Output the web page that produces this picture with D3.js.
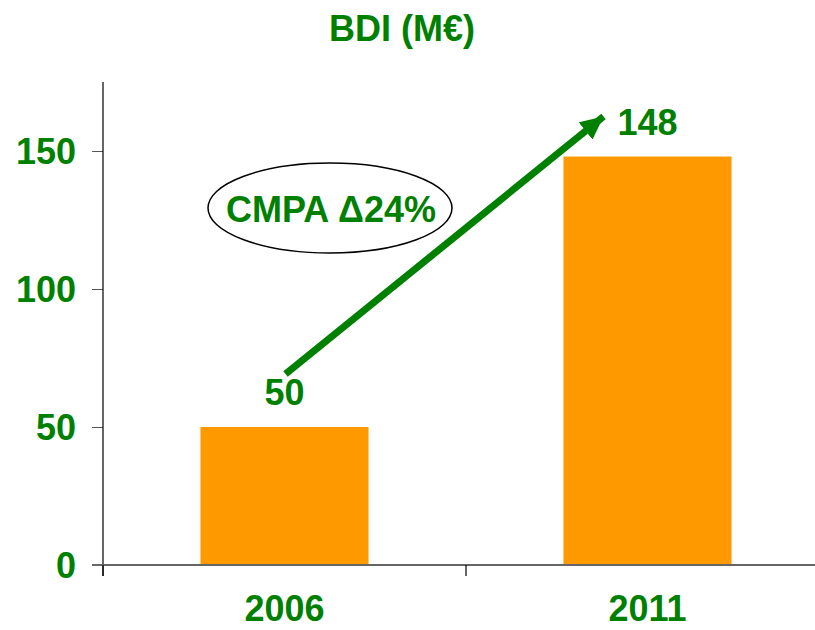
<!DOCTYPE html>
<html>
<head>
<meta charset="utf-8">
<script src="https://cdn.jsdelivr.net/npm/d3@7"></script>
<style>
  body { margin: 0; background: #fff; }
  text { font-family: Arial, "Liberation Sans", sans-serif; font-weight: bold; }
</style>
</head>
<body>
<div id="chart"></div>
<script>
//
// BDI bar chart
//

const _width = 815;
const _height = 630;
const _green = "#008000";
const _barColor = "#ff9900";

var years = ["2006", "2011"];
var bdiValues = [50, 148];
var yTicks = [0, 50, 100, 150];
var chartTitle = "BDI (M€)";
var cmpaLabel = "CMPA Δ24%";

var svg = d3.select("#chart")
    .append("svg")
    .attr("width", _width)
    .attr("height", _height);

var x = d3.scaleBand()
    .domain(years)
    .range([103, 829])
    .paddingInner(0.537)
    .paddingOuter(0.2685);

var y = d3.scaleLinear()
    .domain([0, 175])
    .range([565, 82]);

// title
svg.append("text")
    .attr("x", 402)
    .attr("y", 41)
    .attr("text-anchor", "middle")
    .style("font-size", "36px")
    .attr("fill", _green)
    .text(chartTitle);

// bars
svg.append("g")
    .selectAll("rect")
    .data(bdiValues)
    .join("rect")
    .attr("x", (d, i) => x(years[i]))
    .attr("y", d => y(d))
    .attr("width", x.bandwidth())
    .attr("height", d => y(0) - y(d))
    .attr("fill", _barColor);

// y-axis
var yAxis = d3.axisLeft(y).tickValues(yTicks).tickSize(11).tickPadding(16);
var gy = svg.append("g")
    .attr("transform", "translate(103,0)")
    .call(yAxis);
gy.select(".domain").remove();
gy.selectAll(".tick line").attr("stroke", "#555");
gy.selectAll(".tick text")
    .attr("fill", _green)
    .style("font-size", "36px")
    .attr("dy", "0.35em");
svg.append("line")
    .attr("x1", 103).attr("x2", 103)
    .attr("y1", y.range()[1]).attr("y2", 576)
    .attr("stroke", "#000")
    .attr("stroke-width", 1.2);

// x-axis
svg.append("line")
    .attr("x1", 92).attr("x2", _width)
    .attr("y1", y(0)).attr("y2", y(0))
    .attr("stroke", "#666")
    .attr("stroke-width", 2);

var bounds = years.map((d, i) => x.range()[0] + i * x.step()).concat([x.range()[1]]);
svg.append("g")
    .selectAll("line")
    .data(bounds)
    .join("line")
    .attr("x1", d => d).attr("x2", d => d)
    .attr("y1", y(0)).attr("y2", 576)
    .attr("stroke", "#000")
    .attr("stroke-width", 1.2);

var xAxis = d3.axisBottom(x).tickSize(0).tickPadding(0);
var gx = svg.append("g")
    .attr("transform", "translate(0,621)")
    .call(xAxis);
gx.select(".domain").remove();
gx.selectAll(".tick text")
    .attr("fill", _green)
    .style("font-size", "36px")
    .attr("dy", "0");

// value labels
svg.append("g")
    .selectAll("text")
    .data(bdiValues)
    .join("text")
    .attr("x", (d, i) => x(years[i]) + x.bandwidth() / 2)
    .attr("y", d => y(d) - 22)
    .attr("text-anchor", "middle")
    .attr("fill", _green)
    .style("font-size", "36px")
    .text(d => d);

// growth arrow
svg.append("defs").append("marker")
    .attr("id", "arrowHead")
    .attr("viewBox", "0 0 23 22")
    .attr("refX", 23)
    .attr("refY", 11)
    .attr("markerUnits", "userSpaceOnUse")
    .attr("markerWidth", 23)
    .attr("markerHeight", 22)
    .attr("orient", "auto")
    .append("path")
    .attr("d", "M0,0 L23,11 L0,22 Z")
    .attr("fill", _green);

var x0 = x(years[0]) + x.bandwidth() / 2;
var x1 = x(years[1]) + x.bandwidth() / 2;
svg.append("line")
    .attr("x1", x0 + 1)
    .attr("y1", y(bdiValues[0]) - 53)
    .attr("x2", x1 - 44)
    .attr("y2", y(bdiValues[1]) - 40)
    .attr("stroke", _green)
    .attr("stroke-width", 7)
    .attr("marker-end", "url(#arrowHead)");

// CMPA callout
svg.append("ellipse")
    .attr("cx", 330)
    .attr("cy", 208)
    .attr("rx", 122)
    .attr("ry", 45)
    .attr("fill", "none")
    .attr("stroke", "#000")
    .attr("stroke-width", 1.5);

svg.append("text")
    .attr("x", 331)
    .attr("y", 222)
    .attr("text-anchor", "middle")
    .attr("fill", _green)
    .style("font-size", "36px")
    .text(cmpaLabel);
</script>
</body>
</html>
